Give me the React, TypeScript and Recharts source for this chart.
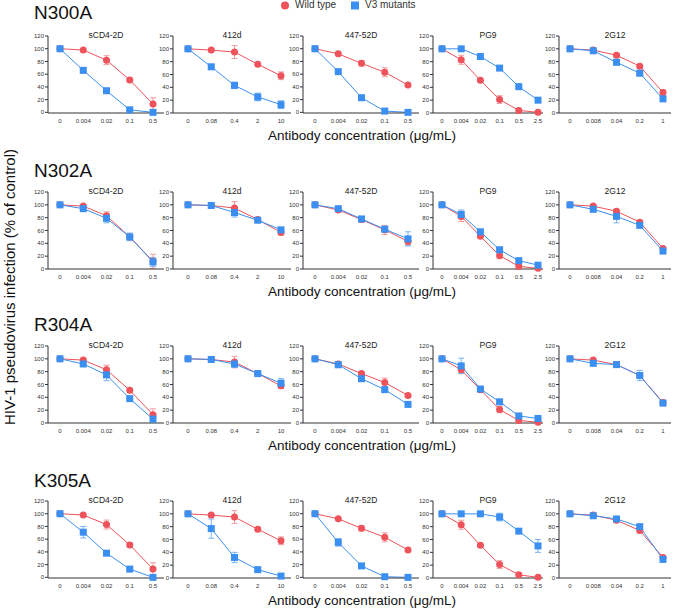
import React from 'react';
import { LineChart, Line, XAxis, YAxis, ErrorBar } from 'recharts';

const mutants = ['N300A', 'N302A', 'R304A', 'K305A'];
const antibodies = ['sCD4-2D', '412d', '447-52D', 'PG9', '2G12'];
const concSCD4 = ['0', '0.004', '0.02', '0.1', '0.5'];
const conc412d = ['0', '0.08', '0.4', '2', '10'];
const conc447 = ['0', '0.004', '0.02', '0.1', '0.5'];
const concPG9 = ['0', '0.004', '0.02', '0.1', '0.5', '2.5'];
const conc2G12 = ['0', '0.008', '0.04', '0.2', '1'];
const concentrations = [concSCD4, conc412d, conc447, concPG9, conc2G12];
const yTicks = [0, 20, 40, 60, 80, 100, 120];

// one list per antibody: sCD4-2D, 412d, 447-52D, PG9, 2G12
const n300aWild = [[100, 98, 82, 51, 13], [100, 98, 95, 76, 58], [100, 92, 77, 63, 43], [100, 83, 51, 21, 4, 1], [100, 98, 90, 73, 32]];
const n300aWildErr = [[0, 1, 7, 3, 10], [0, 2, 10, 3, 6], [0, 2, 4, 7, 2], [0, 7, 2, 6, 2, 1], [0, 1, 3, 3, 4]];
const n300aV3 = [[100, 66, 34, 4, 0], [100, 72, 43, 25, 13], [100, 64, 23, 2, 0], [100, 100, 88, 70, 41, 20], [100, 97, 79, 62, 22]];
const n300aV3Err = [[0, 2, 2, 2, 1], [0, 3, 5, 6, 6], [0, 2, 2, 2, 1], [0, 1, 2, 3, 4, 2], [0, 2, 2, 2, 4]];

const n302aWild = [[100, 98, 83, 50, 12], [100, 99, 95, 77, 57], [100, 92, 77, 61, 43], [100, 82, 51, 21, 4, 1], [100, 98, 90, 73, 32]];
const n302aWildErr = [[0, 2, 6, 4, 11], [0, 1, 10, 2, 4], [0, 2, 4, 7, 6], [0, 8, 2, 5, 2, 1], [0, 1, 3, 3, 3]];
const n302aV3 = [[100, 94, 79, 50, 11], [100, 99, 88, 76, 61], [100, 94, 78, 62, 47], [100, 85, 58, 30, 13, 6], [100, 93, 82, 68, 28]];
const n302aV3Err = [[0, 4, 7, 6, 7], [0, 1, 7, 2, 3], [0, 2, 3, 4, 11], [0, 7, 2, 2, 2, 1], [0, 2, 10, 3, 3]];

const r304aWild = [[100, 98, 83, 51, 13], [100, 99, 95, 77, 58], [100, 92, 77, 63, 43], [100, 83, 52, 21, 4, 1], [100, 98, 91, 74, 32]];
const r304aWildErr = [[0, 2, 7, 3, 9], [0, 1, 9, 2, 4], [0, 2, 3, 7, 2], [0, 6, 2, 5, 2, 1], [0, 1, 2, 3, 3]];
const r304aV3 = [[100, 92, 75, 38, 6], [100, 99, 92, 77, 62], [100, 91, 69, 52, 29], [100, 89, 53, 33, 11, 7], [100, 93, 91, 74, 31]];
const r304aV3Err = [[0, 4, 9, 2, 5], [0, 1, 5, 2, 7], [0, 5, 2, 3, 2], [0, 12, 3, 2, 3, 2], [0, 2, 3, 8, 3]];

const k305aWild = [[100, 98, 83, 51, 13], [100, 98, 95, 76, 58], [100, 92, 77, 63, 43], [100, 83, 51, 21, 5, 1], [100, 98, 90, 74, 32]];
const k305aWildErr = [[0, 1, 7, 3, 10], [0, 2, 10, 2, 6], [0, 2, 4, 7, 2], [0, 7, 2, 6, 2, 1], [0, 1, 3, 3, 3]];
const k305aV3 = [[100, 71, 38, 13, 0], [100, 77, 32, 13, 3], [100, 55, 18, 1, 0], [100, 100, 100, 95, 73, 50], [100, 97, 92, 80, 29]];
const k305aV3Err = [[0, 9, 2, 2, 1], [0, 15, 8, 2, 2], [0, 6, 2, 1, 1], [0, 1, 1, 6, 3, 10], [0, 2, 3, 2, 3]];

const rows = [
  { wild: n300aWild, wildErr: n300aWildErr, v3: n300aV3, v3Err: n300aV3Err },
  { wild: n302aWild, wildErr: n302aWildErr, v3: n302aV3, v3Err: n302aV3Err },
  { wild: r304aWild, wildErr: r304aWildErr, v3: r304aV3, v3Err: r304aV3Err },
  { wild: k305aWild, wildErr: k305aWildErr, v3: k305aV3, v3Err: k305aV3Err },
];

const RED = '#ee525a';
const RED_ERR = '#f29ba0';
const BLUE = '#3b8ff0';
const BLUE_ERR = '#79b3f5';
const AXIS = '#333';
const FONT = '"Liberation Sans", Arial, sans-serif';

// layout
const rowTop = [36, 192, 346, 501];
const rowTitleTop = [2, 160, 314, 470];
const colAxisX = [48, 173, 303, 433, 559];
const colPlotW = [116, 118, 116, 110, 112];
const colPad = [
  { left: 12, right: 11 },
  { left: 15, right: 10 },
  { left: 12, right: 11 },
  { left: 9, right: 5 },
  { left: 11, right: 8 },
];
const Y_W = 22;
const M_TOP = 4;
const PLOT_H = 77;
const X_H = 16;

const Square = (props: any) => {
  const { cx, cy, index } = props;
  if (cx == null || cy == null) return null;
  return <rect key={`sq-${index}`} x={cx - 3.5} y={cy - 3.5} width={7} height={7} fill={BLUE} />;
};

const Panel = ({ r, c }: { r: number; c: number }) => {
  const row = rows[r];
  const data = concentrations[c].map((conc, i) => ({
    conc,
    wild: row.wild[c][i],
    wildErr: row.wildErr[c][i],
    v3: row.v3[c][i],
    v3Err: row.v3Err[c][i],
  }));
  const width = Y_W + colPlotW[c] + 2;
  const height = M_TOP + PLOT_H + X_H;
  return (
    <div style={{ position: 'absolute', left: colAxisX[c] - Y_W, top: rowTop[r] - M_TOP }}>
      <LineChart width={width} height={height} data={data} margin={{ top: M_TOP, right: 2, left: 0, bottom: 0 }}>
        <XAxis
          dataKey="conc"
          type="category"
          padding={colPad[c]}
          height={X_H}
          tickLine={false}
          tickSize={4}
          interval={0}
          stroke={AXIS}
          tick={{ fontSize: 6, fill: '#333', fontFamily: FONT }}
        />
        <YAxis
          domain={[0, 120]}
          ticks={yTicks}
          width={Y_W}
          tickSize={3}
          tickMargin={1}
          interval={0}
          stroke={AXIS}
          tick={{ fontSize: 6, fill: '#333', fontFamily: FONT }}
        />
        <Line
          dataKey="wild"
          stroke={RED}
          strokeWidth={1}
          isAnimationActive={false}
          dot={{ r: 3.5, fill: RED, stroke: RED, strokeWidth: 0 }}
        >
          <ErrorBar dataKey="wildErr" direction="y" width={3} stroke={RED_ERR} strokeWidth={1} />
        </Line>
        <Line dataKey="v3" stroke={BLUE} strokeWidth={1} isAnimationActive={false} dot={Square}>
          <ErrorBar dataKey="v3Err" direction="y" width={3} stroke={BLUE_ERR} strokeWidth={1} />
        </Line>
      </LineChart>
      <div
        style={{
          position: 'absolute',
          left: Y_W,
          width: colPlotW[c],
          top: M_TOP - 7,
          textAlign: 'center',
          fontSize: 8.5,
          lineHeight: '12px',
          color: '#222',
        }}
      >
        {antibodies[c]}
      </div>
    </div>
  );
};

export default function App() {
  return (
    <div
      style={{
        position: 'absolute',
        left: 0,
        top: 0,
        width: 675,
        height: 609,
        background: '#fff',
        fontFamily: FONT,
        overflow: 'hidden',
      }}
    >
      {/* legend */}
      <svg style={{ position: 'absolute', left: 278, top: 0 }} width={12} height={11}>
        <circle cx={7} cy={5.5} r={4} fill={RED} />
      </svg>
      <div style={{ position: 'absolute', left: 295, top: -1, fontSize: 10, lineHeight: '12px', color: '#333' }}>
        Wild type
      </div>
      <svg style={{ position: 'absolute', left: 350, top: 0 }} width={12} height={11}>
        <rect x={1} y={1.5} width={8} height={8} fill={BLUE} />
      </svg>
      <div style={{ position: 'absolute', left: 365, top: -1, fontSize: 10, lineHeight: '12px', color: '#333' }}>
        V3 mutants
      </div>

      {/* y axis title */}
      <div
        style={{
          position: 'absolute',
          left: 10 - 160,
          top: 287 - 9,
          width: 320,
          height: 18,
          lineHeight: '18px',
          textAlign: 'center',
          fontSize: 15,
          whiteSpace: 'nowrap',
          transform: 'rotate(-90deg)',
          color: '#111',
        }}
      >
        HIV-1 pseudovirus infection (% of control)
      </div>

      {mutants.map((m, r) => (
        <React.Fragment key={m}>
          <div
            style={{
              position: 'absolute',
              left: 34,
              top: rowTitleTop[r],
              fontSize: 19,
              lineHeight: '22px',
              color: '#111',
            }}
          >
            {m}
          </div>
          {antibodies.map((a, c) => (
            <Panel key={`${m}-${a}`} r={r} c={c} />
          ))}
          <div
            style={{
              position: 'absolute',
              left: 262,
              width: 200,
              top: rowTop[r] + 91,
              textAlign: 'center',
              fontSize: 13.5,
              lineHeight: '18px',
              whiteSpace: 'nowrap',
              color: '#111',
            }}
          >
            Antibody concentration (μg/mL)
          </div>
        </React.Fragment>
      ))}
    </div>
  );
}
